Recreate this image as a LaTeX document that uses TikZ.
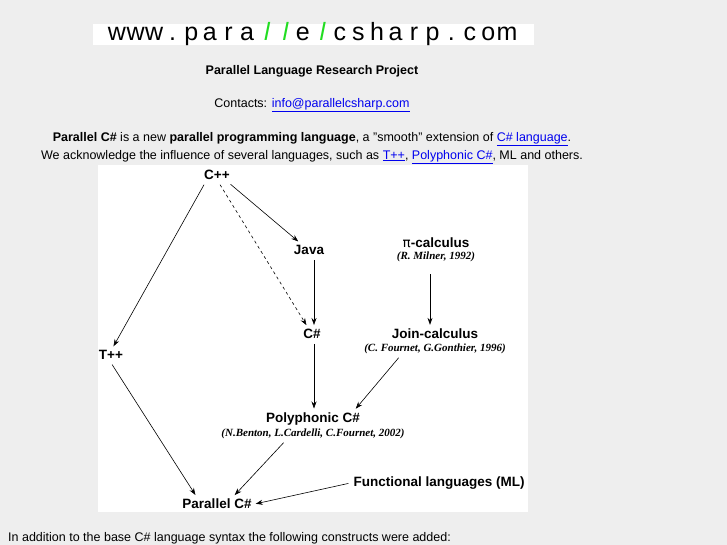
\documentclass[tikz,border=0pt]{standalone}
\usepackage{fontspec}
\setmainfont{Liberation Sans}
\newfontfamily\credfont{Liberation Serif}
\usetikzlibrary{arrows.meta}
\definecolor{pagegray}{HTML}{EEEEEE}
\definecolor{linkblue}{HTML}{0000EE}
\definecolor{bannergreen}{HTML}{22DD22}
\newcommand{\lnk}[1]{\textcolor{linkblue}{\underline{#1}}}
\tikzset{
  lang/.style={font=\fontsize{13.5}{15}\selectfont\bfseries, inner sep=3pt},
  cred/.style={font=\fontsize{11}{12}\selectfont\credfont\bfseries\itshape, inner sep=2pt},
  txt/.style={font=\fontsize{12.5}{15}\selectfont, inner sep=0pt},
  link/.style={-{Stealth[length=7pt,width=5pt]}, semithick, shorten <=2pt, shorten >=1pt}
}
\begin{document}
\begin{tikzpicture}[x=1pt, y=-1pt]
    % Page and boxes
    \fill[pagegray] (0,0) rectangle (727,545);
    \useasboundingbox (0,0) rectangle (727,545);
    \fill[white] (93,24) rectangle (534,45);
    \fill[white] (98,165) rectangle (528,512);

    % Banner
    \foreach \c [count=\i] in {w,w,w,.,p,a,r,a,l,l,e,l,c,s,h,a,r,p,.,c,o,m}{
        \ifnum\i=9 \def\col{bannergreen}\def\sl{0.2}\else\ifnum\i=10 \def\col{bannergreen}\def\sl{0.2}\else\ifnum\i=12 \def\col{bannergreen}\def\sl{0.2}\else\def\col{black}\def\sl{0}\fi\fi\fi
        \node[font=\fontsize{25}{25}\selectfont, text=\col, inner sep=0pt, anchor=base, xslant=\sl] at (117+18.57*\i-18.57,41) {\c};
    }

    % Header texts
    \node[txt, font=\fontsize{12.5}{15}\selectfont\bfseries] (title) at (312,71) {Parallel Language Research Project};
    \node[txt] (contacts) at (312,105) {Contacts: \lnk{info@parallelcsharp.com}};
    \node[txt] (intro1) at (312,139) {\textbf{Parallel C\#} is a new \textbf{parallel programming language}, a "smooth" extension of \lnk{C\# language}.};
    \node[txt] (intro2) at (312,157) {We acknowledge the influence of several languages, such as \lnk{T++}, \lnk{Polyphonic C\#}, ML and others.};

    % Languages
    \node[lang] (cpp) at (217,175) {C++};
    \node[lang] (java) at (309,250) {Java};
    \node[lang] (cs) at (312,334) {C\#};
    \node[lang] (tpp) at (111,355) {T++};
    \node[lang] (pi) at (436,243) {\fontspec{DejaVu Sans}\mdseries π\bfseries\fontspec{Liberation Sans}-calculus};
    \node[cred] (picred) at (436,257) {(R. Milner, 1992)};
    \node[lang] (join) at (435,334) {Join-calculus};
    \node[cred] (joincred) at (435,349) {(C. Fournet, G.Gonthier, 1996)};
    \node[lang] (poly) at (313,419) {Polyphonic C\#};
    \node[cred] (polycred) at (313,434) {(N.Benton, L.Cardelli, C.Fournet, 2002)};
    \node[lang] (pcs) at (217,504) {Parallel C\#};
    \node[lang] (func) at (439,483) {Functional languages (ML)};

    % Influences
    \draw[link] ([xshift=-12pt]cpp.south) -- ([xshift=2pt]tpp.north);
    \draw[link] ([xshift=12pt]cpp.south) -- ([xshift=-10pt]java.north);
    \draw[link, dashed] ([xshift=2pt]cpp.south) -- ([xshift=-5pt]cs.north);
    \draw[link] ([xshift=5pt]java.south) -- ([xshift=2pt]cs.north);
    \draw[link] ([xshift=-6pt]picred.south) ++(0,8) -- ([xshift=-5pt]join.north);
    \draw[link] ([xshift=2pt]cs.south) -- ([xshift=1pt]poly.north);
    \draw[link] ([xshift=-35pt]joincred.south) -- ([xshift=-8pt]poly.north east);
    \draw[link] (tpp.south) -- ([xshift=-21pt]pcs.north);
    \draw[link] ([xshift=-28pt]polycred.south) -- ([xshift=17pt]pcs.north);
    \draw[link] (func.west) -- (pcs.east);

    % Footer
    \node[txt, anchor=west] (footer) at (8,538) {In addition to the base C\# language syntax the following constructs were added:};
\end{tikzpicture}
\end{document}
